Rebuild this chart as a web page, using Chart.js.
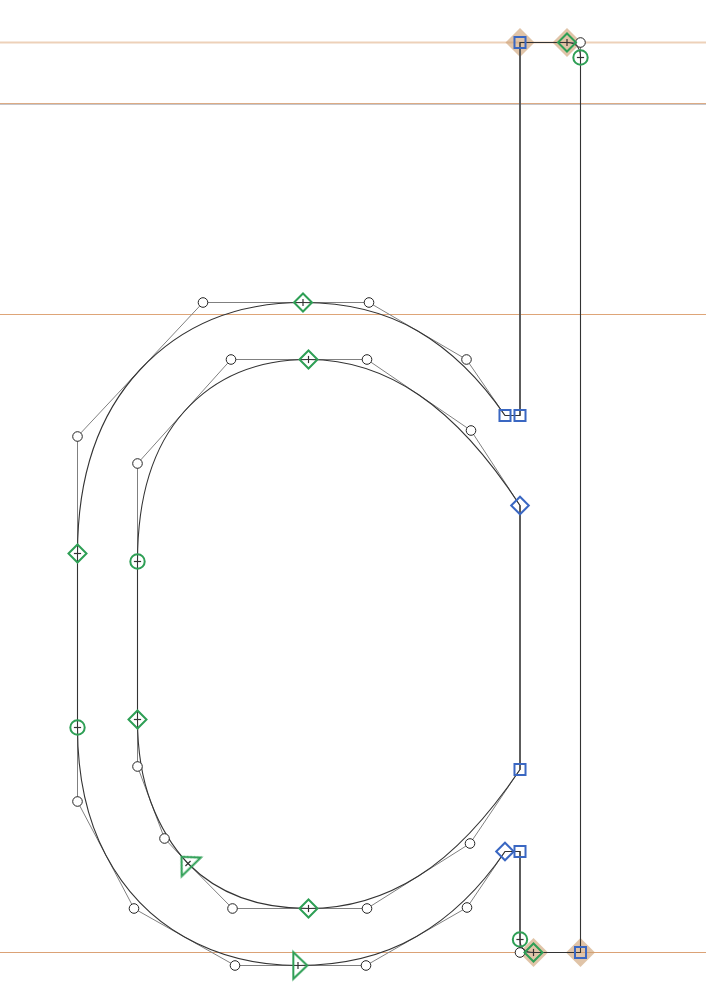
<!DOCTYPE html>
<html>
<head>
<meta charset="utf-8">
<title>glyph d</title>
<script src="https://cdn.jsdelivr.net/npm/chart.js@4.4.1/dist/chart.umd.min.js"></script>
<style>
html, body { margin: 0; padding: 0; background: #fff; overflow: hidden; }
#wrap { width: 706px; height: 990px; }
</style>
</head>
<body>
<div id="wrap"><canvas id="glyphChart" width="706" height="990"></canvas></div>
<script>
// Glyph "d", units = screen px, baseline = 0, y up
const outerX = [520, 520, 505, 466.5, 369, 303, 203, 77.5, 77.5, 77.5, 77.5, 134, 235, 298, 366, 467, 505, 520, 520, 520, 533.5, 580.5, 580.5, 580.5, 567];
const outerY = [910, 537, 537, 593, 650, 650, 650, 516, 399, 225, 151, 44, -13, -13, -13, 45, 101, 101, 13, 0, 0, 0, 895, 910, 910];
const outerOn = [1, 1, 1, 0, 0, 1, 0, 0, 1, 1, 0, 0, 0, 1, 0, 0, 1, 1, 1, 0, 1, 1, 1, 0, 1];
const outerKind = ['corner', 'corner', 'corner', 'off', 'off', 'smoothD', 'off', 'off', 'smoothD', 'smoothC', 'off', 'off', 'off', 'start', 'off', 'off', 'cornerD', 'corner', 'smoothC', 'off', 'smoothD', 'corner', 'smoothC', 'off', 'smoothD'];
const outerZone = [1, 0, 0, 0, 0, 0, 0, 0, 0, 0, 0, 0, 0, 0, 0, 0, 0, 0, 0, 0, 1, 1, 0, 0, 1];

const innerX = [308.5, 367, 471, 520, 520, 470, 367, 308.5, 232.5, 188, 164.5, 137.5, 137.5, 137.5, 137.5, 231];
const innerY = [593, 593, 522, 447, 183, 109, 44, 44, 44, 89, 114, 186, 233, 391, 489, 593];
const innerOn = [1, 0, 0, 1, 1, 0, 0, 1, 0, 1, 0, 0, 1, 1, 0, 0];
const innerKind = ['smoothD', 'off', 'off', 'cornerD', 'corner', 'off', 'off', 'smoothD', 'off', 'start', 'off', 'off', 'smoothD', 'smoothC', 'off', 'off'];

// ascender, cap height (+ grey companion), x-height, baseline
const guideY = [910, 849, 848, 638, 0];
const guideColor = ['rgba(222,172,128,0.55)', '#dcab84', '#c6c6cb', '#dea578', '#dba276'];
const guideWidth = [1.8, 1, 1, 1, 1];

const BLUE = '#3a67c2';
const GREEN = '#2e9f55';

function makeArrow(color) {
    const c = document.createElement('canvas');
    c.width = 34; c.height = 34;
    const g = c.getContext('2d');
    g.strokeStyle = color;
    g.lineWidth = 2;
    g.lineJoin = 'miter';
    g.beginPath();
    g.moveTo(17 - 14 / 3, 17 - 13.3);
    g.lineTo(17 + 28 / 3, 17);
    g.lineTo(17 - 14 / 3, 17 + 13.3);
    g.closePath();
    g.stroke();
    return c;
}

const arrowImg = makeArrow(GREEN);

const KIND_STYLE = {
    corner:  { style: 'rect',    radius: 7.8, color: BLUE,  width: 2, fill: 'rgba(0,0,0,0)' },
    cornerD: { style: 'rectRot', radius: 8.8, color: BLUE,  width: 2, fill: 'rgba(0,0,0,0)' },
    smoothD: { style: 'rectRot', radius: 9,   color: GREEN, width: 2, fill: 'rgba(0,0,0,0)' },
    smoothC: { style: 'circle',  radius: 7.2, color: GREEN, width: 2, fill: 'rgba(0,0,0,0)' },
    start:   { style: arrowImg,  radius: 8,   color: GREEN, width: 2, fill: 'rgba(0,0,0,0)' },
    off:     { style: 'circle',  radius: 4.8, color: '#222', width: 1, fill: '#fff' }
};

const toPts = (xs, ys) => xs.map((x, i) => ({ x, y: ys[i] }));

// tangent direction at point i (degrees, screen space)
function tangentAt(xs, ys, i) {
    const n = xs.length;
    const p = (i - 1 + n) % n, q = (i + 1) % n;
    return Math.atan2(-(ys[q] - ys[p]), xs[q] - xs[p]) * 180 / Math.PI;
}

function markerSet(xs, ys, kinds) {
    const st = kinds.map(k => KIND_STYLE[k]);
    return {
        type: 'scatter',
        data: toPts(xs, ys),
        order: 20,
        pointStyle: st.map(s => s.style),
        pointRadius: st.map(s => s.radius),
        pointBorderColor: st.map(s => s.color),
        pointBorderWidth: st.map(s => s.width),
        pointBackgroundColor: st.map(s => s.fill),
        pointRotation: kinds.map((k, i) => k === 'start' ? tangentAt(xs, ys, i) : 0)
    };
}

function tickSet(xs, ys, kinds) {
    const idx = kinds.map((k, i) => i).filter(i => kinds[i] === 'smoothD' || kinds[i] === 'smoothC' || kinds[i] === 'start');
    return {
        type: 'scatter',
        data: idx.map(i => ({ x: xs[i], y: ys[i] })),
        order: 10,
        pointStyle: 'line',
        pointRadius: 3.6,
        pointBorderWidth: 1.2,
        pointBorderColor: '#333',
        pointRotation: idx.map(i => tangentAt(xs, ys, i) + 90)
    };
}

function polygonSet(xs, ys, on) {
    const pts = toPts(xs, ys);
    pts.push(pts[0]);
    return {
        type: 'scatter',
        data: pts,
        order: 30,
        showLine: true,
        borderColor: '#808080',
        borderWidth: 1,
        pointRadius: 0,
        contour: { xs, ys, on }
    };
}

function zoneSet(xs, ys, zone) {
    const idx = zone.map((z, i) => i).filter(i => zone[i]);
    return {
        type: 'scatter',
        data: idx.map(i => ({ x: xs[i], y: ys[i] })),
        order: 40,
        pointStyle: 'rectRot',
        pointRadius: 14.5,
        pointBorderWidth: 0,
        pointBackgroundColor: 'rgba(205,160,115,0.62)'
    };
}

// draws the quadratic (TrueType) outline on top of its control polygon
const glyphOutline = {
    id: 'glyphOutline',
    afterDatasetDraw(chart, args) {
        const ds = chart.data.datasets[args.index];
        if (!ds.contour) return;
        const { xs, ys, on } = ds.contour;
        const sx = chart.scales.x, sy = chart.scales.y;
        const pts = xs.map((x, i) => ({ x: sx.getPixelForValue(x), y: sy.getPixelForValue(ys[i]), on: on[i] }));
        const ctx = chart.ctx;
        const n = pts.length;
        const s = pts.findIndex(p => p.on);
        ctx.save();
        ctx.beginPath();
        ctx.moveTo(pts[s].x, pts[s].y);
        let ctrl = null;
        for (let k = 1; k <= n; k++) {
            const p = pts[(s + k) % n];
            if (p.on) {
                if (ctrl) ctx.quadraticCurveTo(ctrl.x, ctrl.y, p.x, p.y);
                else ctx.lineTo(p.x, p.y);
                ctrl = null;
            } else {
                if (ctrl) ctx.quadraticCurveTo(ctrl.x, ctrl.y, (ctrl.x + p.x) / 2, (ctrl.y + p.y) / 2);
                ctrl = p;
            }
        }
        ctx.closePath();
        ctx.strokeStyle = '#333';
        ctx.lineWidth = 1.1;
        ctx.stroke();
        ctx.restore();
    }
};

function initChart() {
    const ctx = document.getElementById('glyphChart').getContext('2d');

    const guides = guideY.map((y, i) => ({
        type: 'scatter',
        data: [{ x: 0, y }, { x: 706, y }],
        order: 50,
        showLine: true,
        borderColor: guideColor[i],
        borderWidth: guideWidth[i],
        pointRadius: 0
    }));

    new Chart(ctx, {
        type: 'scatter',
        data: {
            datasets: [
                ...guides,
                zoneSet(outerX, outerY, outerZone),
                polygonSet(outerX, outerY, outerOn),
                polygonSet(innerX, innerY, innerOn),
                markerSet(outerX, outerY, outerKind),
                markerSet(innerX, innerY, innerKind),
                tickSet(outerX, outerY, outerKind),
                tickSet(innerX, innerY, innerKind)
            ]
        },
        options: {
            responsive: false,
            animation: false,
            events: [],
            layout: { padding: 0, autoPadding: false },
            scales: {
                x: { type: 'linear', min: 0, max: 706, display: false },
                y: { type: 'linear', min: -37.5, max: 952.5, display: false }
            },
            plugins: {
                legend: { display: false },
                tooltip: { enabled: false }
            }
        },
        plugins: [glyphOutline]
    });
}

document.addEventListener('DOMContentLoaded', initChart);
</script>
</body>
</html>
